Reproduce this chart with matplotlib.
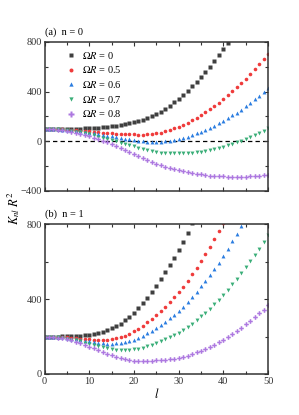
import matplotlib
matplotlib.use('Agg')
import matplotlib.pyplot as plt
import numpy as np
from matplotlib.ticker import MultipleLocator

plt.rcParams['font.family'] = ['Liberation Serif', 'DejaVu Serif']
plt.rcParams['mathtext.fontset'] = 'stix'

# angular index l
l = np.arange(0, 51)

# (a) n = 0, K_nl R^2 for each Omega R
a_00 = [100, 100, 100, 100, 100, 101, 101, 102, 103, 104,
        105, 107, 109, 112, 116, 120, 125, 131, 138, 146,
        155, 164, 174, 187, 202, 220, 240, 262, 287, 314,
        343, 374, 407, 442, 479, 517, 557, 599, 644, 692,
        741, 791, 843, 897, 953, 1011, 1071, 1133, 1197, 1263, 1331]
a_05 = [100, 100, 99, 98, 96, 95, 92, 90, 87, 84,
        80, 77, 73, 70, 67, 64, 61, 59, 57, 56,
        55, 54, 53, 55, 58, 64, 71, 80, 91, 104,
        118, 134, 151, 170, 190, 211, 233, 257, 283, 312,
        341, 371, 402, 435, 469, 505, 542, 581, 621, 663, 706]
a_06 = [100, 100, 99, 97, 94, 92, 88, 84, 80, 75,
        69, 63, 57, 51, 45, 39, 33, 27, 21, 16,
        11, 5, 0, -3, -5, -5, -3, 0, 5, 11,
        19, 28, 38, 50, 63, 76, 90, 106, 124, 144,
        165, 186, 208, 231, 256, 282, 309, 338, 368, 399, 431]
a_07 = [100, 100, 98, 96, 92, 89, 83, 78, 72, 64,
        56, 48, 38, 29, 20, 10, 0, -11, -21, -31,
        -41, -52, -63, -72, -80, -86, -91, -95, -97, -98,
        -98, -97, -95, -92, -87, -83, -78, -72, -64, -53,
        -43, -33, -21, -9, 4, 19, 34, 51, 68, 87, 106]
a_08 = [100, 99, 97, 94, 90, 85, 78, 71, 62, 52,
        41, 30, 17, 4, -9, -24, -39, -54, -69, -85,
        -101, -118, -136, -152, -167, -180, -193, -205, -215, -224,
        -233, -241, -248, -255, -261, -267, -272, -277, -280, -281,
        -283, -285, -286, -286, -286, -285, -283, -281, -278, -274, -269]

# (b) n = 1
b_00 = [200, 200, 200, 200, 201, 201, 202, 203, 205, 207,
        210, 214, 219, 225, 233, 243, 255, 269, 286, 305,
        327, 351, 378, 407, 439, 472, 506, 542, 580, 620,
        662, 706, 752, 803, 855, 908, 963, 1020, 1080, 1142,
        1206, 1273, 1342, 1413, 1486, 1561, 1638, 1717, 1798, 1881, 1966]
b_05 = [200, 200, 199, 198, 197, 195, 193, 191, 189, 187,
        185, 184, 183, 183, 184, 187, 191, 197, 205, 215,
        227, 241, 257, 275, 295, 316, 337, 360, 384, 410,
        437, 466, 496, 531, 566, 602, 639, 678, 719, 762,
        806, 853, 901, 951, 1002, 1055, 1109, 1165, 1222, 1281, 1341]
b_06 = [200, 200, 199, 197, 195, 192, 189, 185, 182, 178,
        174, 170, 167, 164, 162, 162, 163, 165, 169, 175,
        183, 192, 204, 217, 232, 247, 263, 280, 298, 317,
        338, 360, 383, 411, 439, 467, 496, 527, 560, 594,
        630, 668, 707, 747, 789, 832, 876, 922, 969, 1017, 1066]
b_07 = [200, 200, 198, 196, 193, 189, 184, 179, 174, 167,
        161, 155, 148, 142, 137, 133, 130, 127, 127, 128,
        131, 135, 141, 148, 157, 166, 175, 185, 196, 208,
        221, 235, 250, 269, 289, 308, 328, 349, 372, 397,
        422, 449, 478, 507, 537, 569, 601, 635, 669, 704, 741]
b_08 = [200, 199, 197, 194, 191, 185, 179, 172, 164, 155,
        146, 137, 127, 117, 108, 99, 91, 84, 79, 74,
        71, 69, 68, 68, 70, 72, 73, 75, 78, 82,
        86, 91, 97, 106, 115, 124, 134, 144, 156, 169,
        182, 197, 213, 230, 247, 265, 284, 303, 323, 344, 366]

labels = ['0', '0.5', '0.6', '0.7', '0.8']
colors = ['#3f3f3f', '#ef3b3b', '#2b7de0', '#3aae78', '#ad78e0']
markers = ['s', 'o', '^', 'v', 'P']
sizes = [2.4, 2.6, 2.8, 2.8, 3.3]

fig = plt.figure(figsize=(2.99, 4.15), dpi=100)
ax1 = fig.add_axes([0.149, 0.5398, 0.7475, 0.359])
ax2 = fig.add_axes([0.149, 0.0988, 0.7475, 0.3614])

for ax, series in [(ax1, [a_00, a_05, a_06, a_07, a_08]),
                   (ax2, [b_00, b_05, b_06, b_07, b_08])]:
    for y, lab, c, m, ms in zip(series, labels, colors, markers, sizes):
        ax.plot(l, y, ls='none', marker=m, ms=ms, color=c, mec='none',
                label=r'$\Omega R$ = ' + lab)
    ax.set_xlim(0, 50)
    ax.xaxis.set_major_locator(MultipleLocator(10))
    ax.xaxis.set_minor_locator(MultipleLocator(5))
    ax.yaxis.set_major_locator(MultipleLocator(400))
    ax.yaxis.set_minor_locator(MultipleLocator(200))
    ax.tick_params(which='both', direction='in', top=True, right=True,
                   labelsize=7.5, colors='#333333', width=0.8, pad=2)
    ax.tick_params(which='major', length=3)
    ax.tick_params(which='minor', length=2)
    for s in ax.spines.values():
        s.set_linewidth(1.1)
        s.set_color('#333333')

ax1.set_ylim(-400, 800)
ax1.axhline(0, color='k', ls='--', lw=0.9, dashes=(3.5, 2.5), zorder=0)
ax1.tick_params(labelbottom=False)
ax2.set_ylim(0, 800)

ax1.text(0.0, 1.035, '(a)  n = 0', transform=ax1.transAxes, ha='left',
         va='bottom', fontsize=7.5)
ax2.text(0.0, 1.035, '(b)  n = 1', transform=ax2.transAxes, ha='left',
         va='bottom', fontsize=7.5)

ax1.legend(loc='upper left', bbox_to_anchor=(0.07, 0.99), frameon=False,
           fontsize=7.5, handlelength=0.8, handletextpad=0.7,
           labelspacing=0.35, borderaxespad=0.2, markerscale=1.1)

ax2.set_xlabel(r'$l$', fontsize=9, labelpad=1)
fig.text(0.045, 1 - 208 / 415, r'$K_{nl}\ R^2$', rotation=90,
         ha='center', va='center', fontsize=9)

fig.savefig('out.png', dpi=100)
